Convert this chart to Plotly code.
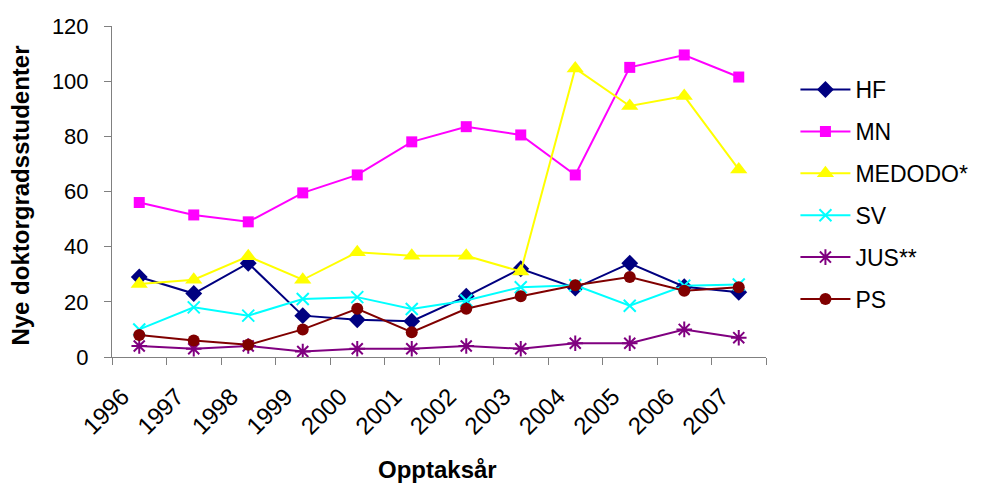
import plotly.graph_objects as go

years = ["1996", "1997", "1998", "1999", "2000", "2001", "2002", "2003", "2004", "2005", "2006", "2007"]
hf = [29, 23, 34, 15, 13.5, 13, 22, 32, 25, 34, 25.5, 23.5]
mn = [56, 51.5, 49, 59.5, 66, 78, 83.5, 80.5, 66, 105, 109.5, 101.5]
medodo = [26.5, 28, 36.5, 28, 38, 36.7, 36.7, 31, 104.6, 91, 94.6, 68]
sv = [10, 18, 15, 21, 21.7, 17.4, 20.5, 25.3, 26, 18.6, 25.8, 26.3]
jus = [4, 3, 4, 2, 3, 3, 4, 3, 5, 5, 10, 7]
ps = [8, 6, 4.4, 10, 17.5, 9, 17.5, 22, 26, 29, 24, 25.3]

names = ["HF", "MN", "MEDODO*", "SV", "JUS**", "PS"]
data = [hf, mn, medodo, sv, jus, ps]
colors = ["#000080", "#FF00FF", "#FFFF00", "#00FFFF", "#800080", "#800000"]
symbols = ["diamond", "square", "triangle-up", "x-thin-open", "asterisk-open", "circle"]
sizes = [13, 11, 15, 12, 13, 12]

fig = go.Figure()
for i, (n, d, c, s, sz) in enumerate(zip(names, data, colors, symbols, sizes)):
    marker = dict(symbol=s, size=sz, color=c)
    if s.endswith("-open"):
        marker["line"] = dict(color=c, width=2)
    fig.add_trace(go.Scatter(
        x=years, y=d, name=n, mode="lines+markers",
        line=dict(color=c, width=2), marker=marker,
        legendgroup=str(i),
    ))

title_font = dict(size=24, family="Liberation Sans, Arial", weight="bold", color="black")

fig.update_layout(
    width=977, height=477,
    margin=dict(l=104, r=215, t=18, b=128),
    paper_bgcolor="white", plot_bgcolor="white",
    font=dict(family="Liberation Sans, Arial", size=22, color="black"),
    showlegend=True,
    legend=dict(
        x=1.045, y=0.873, xanchor="left", yanchor="top",
        font=dict(size=23), tracegroupgap=9, traceorder="grouped",
        bgcolor="rgba(0,0,0,0)", itemwidth=50,
    ),
    xaxis=dict(
        type="category", range=[-0.5, 11.5], showgrid=False, showline=True,
        linecolor="#808080", linewidth=1, automargin=False,
        ticks="outside", ticklen=7, tickcolor="#808080", tickson="boundaries",
        tickangle=-45, tickfont=dict(size=24),
        ticklabelshift=-17, ticklabelstandoff=15,
        zeroline=False,
    ),
    yaxis=dict(
        range=[0, 120], dtick=20, showgrid=False, showline=True, automargin=False,
        linecolor="#808080", linewidth=1,
        ticks="outside", ticklen=7, tickcolor="#808080", tickfont=dict(size=22),
        ticklabelstandoff=11,
        zeroline=False,
    ),
    annotations=[
        dict(text="Nye doktorgradsstudenter", xref="paper", yref="paper",
             x=-0.14, y=0.489, xanchor="center", yanchor="middle",
             textangle=-90, showarrow=False, font=title_font),
        dict(text="Opptaksår", xref="paper", yref="paper",
             x=0.497, y=-0.34, xanchor="center", yanchor="middle",
             showarrow=False, font=title_font),
    ],
)

fig.write_html("out.html")
